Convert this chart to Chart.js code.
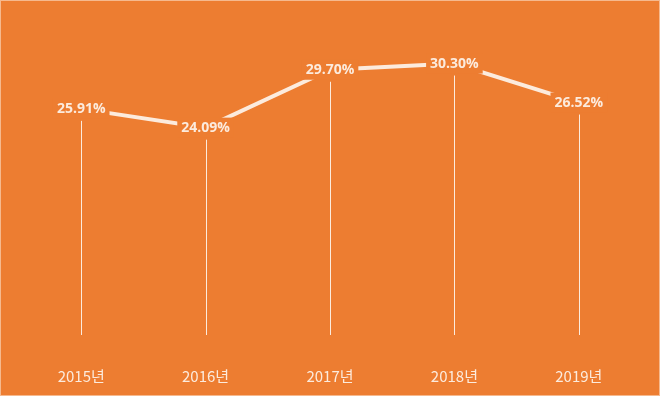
<!DOCTYPE html>
<html>
<head>
<meta charset="utf-8">
<script src="https://cdn.jsdelivr.net/npm/chart.js@4"></script>
<style>
  body { margin: 0; background: #fff; }
  #wrap { width: 658px; height: 394px; border: 1px solid #F6B98E; background: #ED7D31; }
</style>
</head>
<body>
<div id="wrap"><canvas id="rateChart" width="658" height="394"></canvas></div>
<script>
const years = ['2015년', '2016년', '2017년', '2018년', '2019년'];
const rates = [25.91, 24.09, 29.70, 30.30, 26.52];

const bg = '#ED7D31';
const ink = '#FCEBDD';

// labels with an orange box (hides the line) and drop lines to the bottom
const labelPlugin = {
  id: 'labelsAndDrops',
  beforeDatasetsDraw(chart) {
    const ctx = chart.ctx;
    const bottom = chart.chartArea.bottom;
    ctx.save();
    ctx.strokeStyle = ink;
    ctx.lineWidth = 1;
    chart.getDatasetMeta(0).data.forEach(pt => {
      const x = Math.round(pt.x) + 0.5;
      ctx.beginPath();
      ctx.moveTo(x, pt.y + 12);
      ctx.lineTo(x, bottom);
      ctx.stroke();
    });
    ctx.restore();
  },
  afterDatasetsDraw(chart) {
    const ctx = chart.ctx;
    ctx.save();
    ctx.font = 'bold 14px "Open Sans", "Noto Sans CJK KR", sans-serif';
    ctx.textAlign = 'center';
    ctx.textBaseline = 'middle';
    chart.getDatasetMeta(0).data.forEach((pt, i) => {
      const txt = rates[i].toFixed(2) + '%';
      const w = ctx.measureText(txt).width;
      ctx.fillStyle = bg;
      ctx.fillRect(pt.x - w / 2 - 4, pt.y - 10, w + 8, 20);
      ctx.fillStyle = ink;
      ctx.fillText(txt, pt.x, pt.y);
    });
    ctx.restore();
  }
};

new Chart(document.getElementById('rateChart'), {
  type: 'line',
  data: {
    labels: years,
    datasets: [{
      data: rates,
      borderColor: ink,
      borderWidth: 4,
      pointRadius: 0,
      tension: 0
    }]
  },
  options: {
    responsive: false,
    animation: false,
    layout: { padding: { left: 18, right: 18, top: 45, bottom: -14 } },
    plugins: { legend: { display: false }, tooltip: { enabled: false } },
    scales: {
      x: {
        offset: true,
        grid: { display: false },
        border: { display: false },
        ticks: {
          color: ink,
          font: { size: 15, family: '"Noto Sans CJK KR", "Open Sans", sans-serif' },
          padding: 24
        }
      },
      y: { display: false, min: 4, max: 32 }
    }
  },
  plugins: [labelPlugin]
});
</script>
</body>
</html>
